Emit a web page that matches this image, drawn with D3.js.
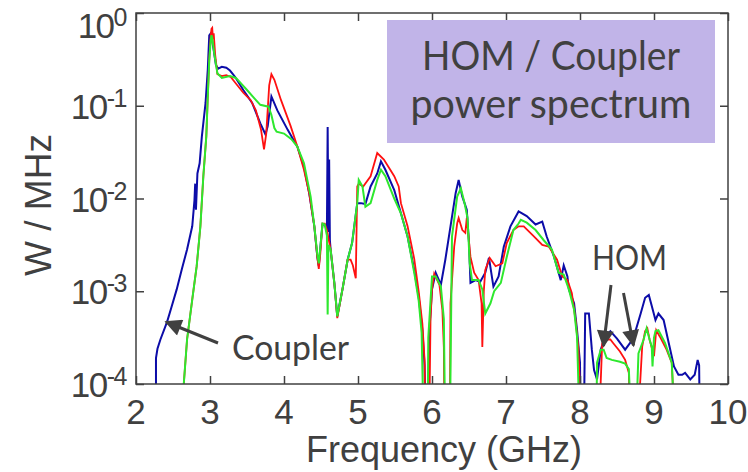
<!DOCTYPE html>
<html>
<head>
<meta charset="utf-8">
<script src="https://cdn.jsdelivr.net/npm/d3@7"></script>
<style>
  body { margin: 0; background: #fff; }
  svg { display: block; }
</style>
</head>
<body>
<svg id="chart" width="748" height="472"></svg>
<script>
// spectra: [frequency GHz, log10(W/MHz)]
// -4.6 means the trace drops out through the bottom of the axes
var blueSpectrum = [
  [2.27,-4.6],[2.27,-3.72],[2.29,-3.62],[2.33,-3.52],[2.42,-3.33],[2.48,-3.17],[2.55,-2.98],
  [2.62,-2.76],[2.69,-2.55],[2.76,-2.30],[2.79,-2.02],[2.80,-1.84],[2.81,-2.12],[2.83,-1.73],
  [2.86,-1.62],[2.89,-1.33],[2.94,-0.97],[2.97,-0.61],[2.99,-0.24],[3.01,-0.22],[3.03,-0.30],
  [3.05,-0.40],[3.08,-0.56],[3.11,-0.60],[3.16,-0.58],[3.22,-0.59],[3.27,-0.62],[3.34,-0.69],
  [3.45,-0.83],[3.57,-0.97],[3.68,-1.19],[3.75,-1.31],[3.78,-1.22],[3.83,-0.90],[3.91,-1.05],
  [4.05,-1.26],[4.18,-1.44],[4.27,-1.66],[4.34,-1.94],[4.41,-2.30],[4.45,-2.63],[4.47,-2.73],
  [4.50,-2.45],[4.52,-2.28],[4.55,-2.28],[4.58,-2.34],[4.59,-1.23],[4.60,-2.36],[4.61,-1.58],
  [4.62,-2.45],[4.63,-2.55],[4.68,-2.91],[4.72,-3.27],[4.79,-2.98],[4.86,-2.66],[4.92,-2.48],
  [4.99,-2.05],[5.04,-2.05],[5.10,-2.06],[5.17,-1.87],[5.26,-1.73],[5.31,-1.60],[5.37,-1.69],
  [5.49,-1.91],[5.58,-2.16],[5.67,-2.41],[5.76,-2.77],[5.82,-3.06],[5.87,-3.42],[5.90,-3.80],
  [5.92,-4.6],[5.95,-4.6],[5.96,-3.49],[6.00,-2.98],[6.05,-2.80],[6.12,-2.93],[6.18,-2.66],
  [6.25,-2.30],[6.32,-1.94],[6.36,-1.80],[6.41,-1.98],[6.47,-2.12],[6.50,-2.48],[6.52,-2.91],
  [6.59,-2.88],[6.65,-2.90],[6.72,-2.80],[6.77,-2.64],[6.83,-2.95],[6.90,-2.84],[6.97,-2.52],
  [7.06,-2.30],[7.17,-2.14],[7.28,-2.19],[7.40,-2.28],[7.49,-2.25],[7.55,-2.41],[7.65,-2.63],
  [7.74,-2.88],[7.78,-2.72],[7.83,-2.84],[7.85,-2.98],[7.92,-3.13],[7.96,-3.42],[8.00,-3.77],
  [8.01,-4.6],[8.05,-4.6],[8.07,-3.24],[8.12,-3.24],[8.16,-3.63],[8.19,-3.85],[8.23,-3.95],
  [8.28,-3.63],[8.34,-3.49],[8.41,-3.43],[8.50,-3.51],[8.61,-3.63],[8.72,-3.51],[8.82,-3.24],
  [8.88,-3.07],[8.93,-3.04],[8.97,-3.16],[9.02,-3.31],[9.06,-3.24],[9.13,-3.31],[9.20,-3.56],
  [9.27,-3.81],[9.33,-3.90],[9.38,-3.90],[9.42,-3.88],[9.49,-3.95],[9.55,-3.90],[9.59,-3.74],
  [9.61,-3.80],[9.62,-4.6]
];

var redSpectrum = [
  [2.59,-4.6],[2.69,-3.52],[2.76,-3.09],[2.82,-2.73],[2.87,-2.30],[2.91,-1.76],[2.95,-1.33],
  [2.97,-0.90],[2.99,-0.51],[3.01,-0.25],[3.02,-0.17],[3.03,-0.16],[3.04,-0.28],[3.05,-0.22],
  [3.07,-0.45],[3.10,-0.66],[3.16,-0.68],[3.22,-0.67],[3.28,-0.69],[3.35,-0.76],[3.45,-0.86],
  [3.55,-0.94],[3.62,-1.05],[3.69,-1.26],[3.73,-1.47],[3.76,-1.30],[3.80,-0.78],[3.83,-0.66],
  [3.87,-0.72],[3.96,-0.94],[4.09,-1.22],[4.18,-1.44],[4.27,-1.69],[4.34,-1.94],[4.41,-2.30],
  [4.45,-2.63],[4.47,-2.76],[4.49,-2.60],[4.52,-2.27],[4.55,-2.27],[4.58,-2.34],[4.63,-2.55],
  [4.68,-2.91],[4.72,-3.29],[4.79,-2.98],[4.86,-2.66],[4.90,-2.66],[4.93,-2.72],[4.97,-2.86],
  [4.99,-1.87],[5.01,-1.84],[5.07,-1.87],[5.17,-1.76],[5.26,-1.51],[5.35,-1.58],[5.49,-1.76],
  [5.55,-1.87],[5.58,-2.05],[5.67,-2.30],[5.76,-2.65],[5.82,-3.00],[5.87,-3.35],[5.90,-3.75],
  [5.91,-4.6],[5.96,-4.6],[5.98,-3.30],[6.00,-2.98],[6.03,-2.81],[6.10,-2.93],[6.14,-3.20],
  [6.16,-3.60],[6.17,-4.6],[6.24,-4.6],[6.25,-3.13],[6.30,-2.52],[6.34,-2.27],[6.36,-2.21],
  [6.41,-2.34],[6.45,-2.37],[6.47,-2.21],[6.52,-2.63],[6.57,-2.80],[6.63,-2.88],[6.67,-3.13],
  [6.68,-3.60],[6.70,-3.00],[6.72,-2.77],[6.78,-2.64],[6.86,-2.73],[6.95,-2.70],[7.01,-2.48],
  [7.10,-2.34],[7.17,-2.30],[7.24,-2.30],[7.38,-2.41],[7.49,-2.50],[7.58,-2.52],[7.69,-2.66],
  [7.76,-2.84],[7.83,-2.88],[7.89,-3.02],[7.94,-3.31],[7.98,-3.63],[8.02,-4.6],[8.25,-4.6],
  [8.30,-3.56],[8.36,-3.52],[8.41,-3.52],[8.45,-3.56],[8.54,-3.65],[8.61,-3.74],[8.66,-3.88],
  [8.68,-4.6],[8.77,-4.6],[8.84,-3.60],[8.88,-3.43],[8.91,-3.40],[8.94,-3.52],[9.00,-3.70],
  [9.03,-3.42],[9.08,-3.49],[9.17,-3.63],[9.24,-3.77],[9.29,-4.6]
];

var greenSpectrum = [
  [2.59,-4.6],[2.69,-3.52],[2.76,-3.09],[2.82,-2.73],[2.87,-2.30],[2.91,-1.76],[2.95,-1.33],
  [2.97,-0.90],[2.99,-0.51],[3.01,-0.29],[3.02,-0.24],[3.03,-0.27],[3.06,-0.45],[3.10,-0.65],
  [3.16,-0.70],[3.27,-0.68],[3.35,-0.70],[3.50,-0.83],[3.60,-0.92],[3.68,-0.99],[3.79,-1.01],
  [3.83,-1.10],[3.87,-1.24],[3.90,-1.28],[4.00,-1.30],[4.10,-1.36],[4.18,-1.44],[4.27,-1.62],
  [4.36,-1.98],[4.41,-2.30],[4.45,-2.60],[4.47,-2.70],[4.50,-2.45],[4.52,-2.27],[4.55,-2.28],
  [4.58,-2.40],[4.59,-3.25],[4.60,-2.50],[4.63,-2.55],[4.68,-2.91],[4.72,-3.27],[4.79,-2.98],
  [4.86,-2.66],[4.92,-2.48],[4.99,-2.05],[5.01,-1.80],[5.06,-1.87],[5.10,-2.09],[5.17,-2.05],
  [5.26,-1.80],[5.31,-1.69],[5.37,-1.76],[5.49,-2.00],[5.58,-2.16],[5.67,-2.41],[5.76,-2.80],
  [5.82,-3.10],[5.86,-3.45],[5.89,-4.6],[5.94,-4.6],[5.95,-3.50],[6.00,-2.84],[6.05,-2.84],
  [6.12,-2.95],[6.16,-3.30],[6.18,-4.6],[6.24,-4.6],[6.27,-2.41],[6.34,-1.98],[6.39,-1.89],
  [6.44,-2.05],[6.48,-2.21],[6.51,-2.70],[6.54,-2.88],[6.63,-2.88],[6.68,-2.98],[6.72,-3.24],
  [6.79,-3.13],[6.84,-3.00],[6.93,-2.91],[7.01,-2.63],[7.10,-2.34],[7.17,-2.27],[7.20,-2.23],
  [7.28,-2.26],[7.40,-2.34],[7.51,-2.45],[7.62,-2.55],[7.71,-2.80],[7.78,-2.82],[7.85,-2.98],
  [7.92,-3.20],[7.96,-3.49],[8.00,-4.6],[8.22,-4.6],[8.23,-3.77],[8.28,-3.63],[8.32,-3.63],
  [8.36,-3.72],[8.43,-3.74],[8.54,-3.76],[8.61,-3.78],[8.66,-3.84],[8.70,-4.6],[8.75,-4.6],
  [8.79,-3.67],[8.86,-3.52],[8.90,-3.40],[8.94,-3.52],[8.97,-3.60],[8.98,-3.81],[9.00,-3.50],
  [9.02,-3.43],[9.06,-3.42],[9.15,-3.56],[9.24,-3.77],[9.29,-4.6]
];

var xTicks = [2, 3, 4, 5, 6, 7, 8, 9, 10];
var yExponents = [0, -1, -2, -3, -4];

var ink = "#404040";
var svg = d3.select("#chart");

var x = d3.scaleLinear().domain([2, 10]).range([136, 728]);
var y = d3.scaleLog().domain([1e-4, 1]).range([384, 13]);

svg.append("clipPath").attr("id", "plotArea")
  .append("rect")
  .attr("x", x(2)).attr("y", y(1))
  .attr("width", x(10) - x(2)).attr("height", y(1e-4) - y(1));

// traces
var line = d3.line()
  .x(function(d){ return x(d[0]); })
  .y(function(d){ return y(Math.pow(10, d[1])); });

var traces = [
  {data: blueSpectrum, color: "#0c0ca8", width: 2},
  {data: redSpectrum, color: "#ff1010", width: 1.8},
  {data: greenSpectrum, color: "#2ee82e", width: 2}
];

var g = svg.append("g").attr("clip-path", "url(#plotArea)");
traces.forEach(function(t){
  g.append("path")
    .datum(t.data)
    .attr("d", line)
    .attr("fill", "none")
    .attr("stroke", t.color)
    .attr("stroke-width", t.width)
    .attr("stroke-linejoin", "miter");
});

// axes box with inward ticks on all four sides
function styleAxis(sel){
  sel.select(".domain").remove();
  sel.selectAll(".tick line").attr("stroke", ink).attr("stroke-width", 1.5);
  sel.selectAll(".tick text").remove();
}
svg.append("g").attr("transform", "translate(0," + y(1e-4) + ")")
  .call(d3.axisBottom(x).tickValues(xTicks).tickSize(-8)).call(styleAxis);
svg.append("g").attr("transform", "translate(0," + y(1) + ")")
  .call(d3.axisTop(x).tickValues(xTicks).tickSize(-8)).call(styleAxis);
var yTickVals = yExponents.map(function(e){ return Math.pow(10, e); });
svg.append("g").attr("transform", "translate(" + x(2) + ",0)")
  .call(d3.axisLeft(y).tickValues(yTickVals).tickSize(-8)).call(styleAxis);
svg.append("g").attr("transform", "translate(" + x(10) + ",0)")
  .call(d3.axisRight(y).tickValues(yTickVals).tickSize(-8)).call(styleAxis);

svg.append("rect")
  .attr("x", x(2)).attr("y", y(1))
  .attr("width", x(10) - x(2)).attr("height", y(1e-4) - y(1))
  .attr("fill", "none").attr("stroke", ink).attr("stroke-width", 1.5);

// tick labels
svg.selectAll(".xlab").data(xTicks).enter().append("text")
  .attr("x", function(d){ return x(d); })
  .attr("y", 424)
  .attr("text-anchor", "middle")
  .attr("font-family", "Liberation Sans, Arial, sans-serif")
  .attr("font-size", 35)
  .attr("fill", ink)
  .text(function(d){ return d; });

yExponents.forEach(function(e){
  var base = e === 0 ? 38 : y(Math.pow(10, e)) + 13;
  var t = svg.append("text")
    .attr("x", 126).attr("y", base)
    .attr("text-anchor", "end")
    .attr("font-family", "Liberation Sans, Arial, sans-serif")
    .attr("fill", ink)
    .attr("letter-spacing", -1.5);
  t.append("tspan").attr("font-size", 35).text("10");
  t.append("tspan").attr("font-size", 25).attr("dy", -12).text(e === 0 ? "0" : "-" + (-e));
});

svg.append("text")
  .attr("x", 444).attr("y", 462)
  .attr("text-anchor", "middle")
  .attr("font-family", "Liberation Sans, Arial, sans-serif")
  .attr("font-size", 36)
  .attr("fill", ink)
  .text("Frequency (GHz)");

svg.append("text")
  .attr("transform", "translate(51,205) rotate(-90)")
  .attr("text-anchor", "middle")
  .attr("font-family", "Liberation Sans, Arial, sans-serif")
  .attr("font-size", 37)
  .attr("fill", ink)
  .text("W / MHz");

// title box
svg.append("rect")
  .attr("x", 387).attr("y", 20).attr("width", 328).attr("height", 123)
  .attr("fill", "#c1b4e8");
[["HOM / Coupler", 70, 258], ["power spectrum", 118, 281]].forEach(function(l){
  svg.append("text")
    .attr("x", 551).attr("y", l[1])
    .attr("text-anchor", "middle")
    .attr("font-family", "Lato, Open Sans, sans-serif")
    .attr("font-size", 40)
    .attr("fill", ink)
    .attr("textLength", l[2]).attr("lengthAdjust", "spacingAndGlyphs")
    .text(l[0]);
});

// annotations
svg.append("defs").append("marker")
  .attr("id", "head").attr("viewBox", "0 0 10 10")
  .attr("refX", 9).attr("refY", 5)
  .attr("markerUnits", "userSpaceOnUse")
  .attr("markerWidth", 20).attr("markerHeight", 17)
  .attr("orient", "auto")
  .append("path").attr("d", "M0,0 L10,5 L0,10 Z").attr("fill", ink);

var arrows = [
  [218, 343, 166, 322],
  [611, 285, 603.5, 346],
  [623.5, 293, 633.5, 345.5]
];
arrows.forEach(function(a){
  svg.append("line")
    .attr("x1", a[0]).attr("y1", a[1]).attr("x2", a[2]).attr("y2", a[3])
    .attr("stroke", ink).attr("stroke-width", 3)
    .attr("marker-end", "url(#head)");
});

svg.append("text")
  .attr("x", 232).attr("y", 360)
  .attr("font-family", "Lato, Open Sans, sans-serif")
  .attr("font-size", 35)
  .attr("fill", ink)
  .attr("textLength", 117).attr("lengthAdjust", "spacingAndGlyphs")
  .text("Coupler");

svg.append("text")
  .attr("x", 592).attr("y", 270)
  .attr("font-family", "Lato, Open Sans, sans-serif")
  .attr("font-size", 35)
  .attr("fill", ink)
  .attr("textLength", 75).attr("lengthAdjust", "spacingAndGlyphs")
  .text("HOM");
</script>
</body>
</html>
